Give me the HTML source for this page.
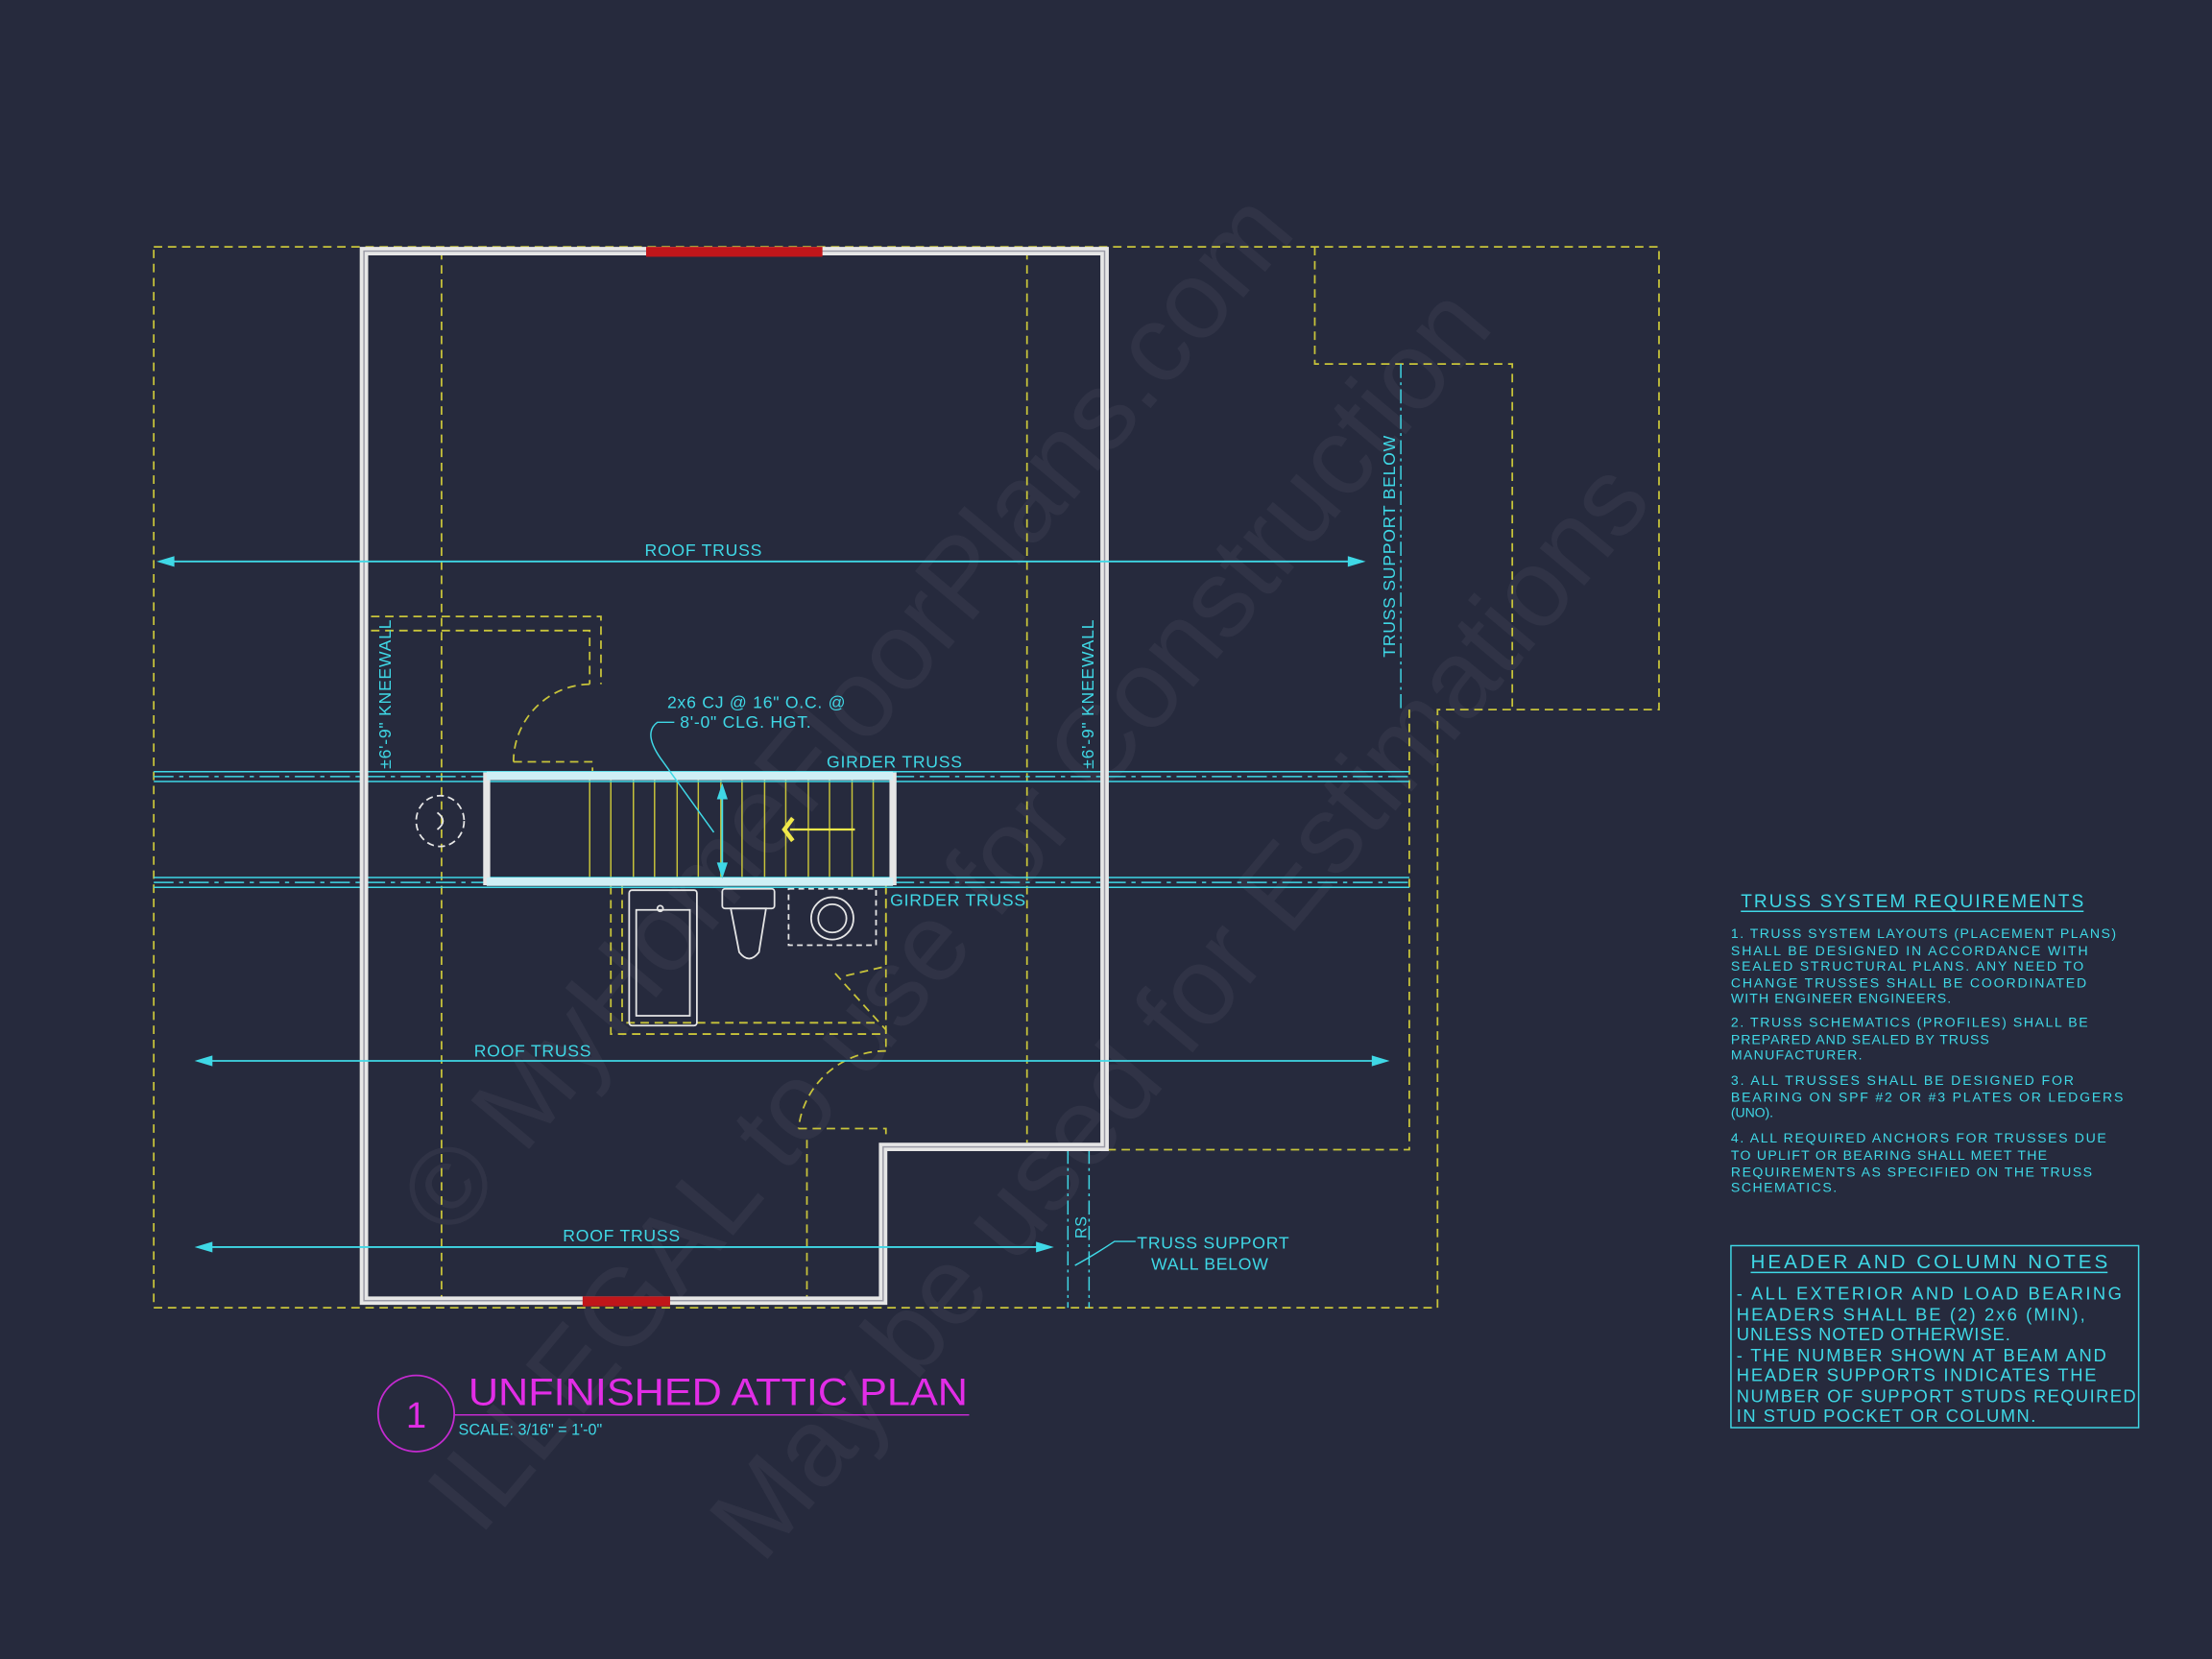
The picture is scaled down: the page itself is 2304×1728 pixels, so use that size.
<!DOCTYPE html>
<html><head><meta charset="utf-8"><style>
html,body{margin:0;padding:0;background:#262a3d;}
svg{display:block;}
text{font-family:"Liberation Sans",sans-serif;}
</style></head><body>
<svg width="2304" height="1728" viewBox="0 0 1568 1176" xmlns="http://www.w3.org/2000/svg">
<rect width="1568" height="1176" fill="#262a3d"/>
<!-- watermarks -->
<g fill="#ffffff" opacity="0.045" font-family="Liberation Serif,serif" font-size="78">
<text transform="translate(320,880) rotate(-50)">© MyHomeFloorPlans.com</text>
<text transform="translate(340,1090) rotate(-50)">ILLEGAL to use for Construction</text>
<text transform="translate(540,1110) rotate(-50)">May be used for Estimations</text>
</g>
<!-- yellow dashed outlines -->
<g fill="none" stroke="#c8c43a" stroke-width="1.2" stroke-dasharray="6,4">
<polyline points="109,175 1176,175 1176,503 1019,503 1019,927 109,927 109,175"/>
<polyline points="932,175 932,258 1072,258 1072,503"/>
<polyline points="999,503 999,815 785,815"/>
<line x1="313" y1="178" x2="313" y2="922"/>
<line x1="728" y1="178" x2="728" y2="810"/>
<polyline points="263,437 426,437 426,485"/>
<polyline points="263,447 418,447 418,485"/>
<path d="M418,485 A55,55 0 0 0 364,540"/>
<polyline points="364,540 420,540 420,550"/>
<polyline points="433,628 433,733 628,733 628,628"/>
<polyline points="441,628 441,725 620,725"/>
<polyline points="628,628 628,685 598,692"/>
<path d="M592,690 L628,730 L628,745"/>
<path d="M628,745 A62,62 0 0 0 566,800"/>
<polyline points="566,800 628,800 628,808"/>
<polyline points="572,808 572,922"/>
</g>
<!-- stair treads -->
<g stroke="#c8c43a" stroke-width="1">
<line x1="418" y1="553" x2="418" y2="623"/><line x1="433" y1="553" x2="433" y2="623"/>
<line x1="449" y1="553" x2="449" y2="623"/><line x1="464" y1="553" x2="464" y2="623"/>
<line x1="480" y1="553" x2="480" y2="623"/><line x1="495" y1="553" x2="495" y2="623"/>
<line x1="511" y1="553" x2="511" y2="623"/><line x1="526" y1="553" x2="526" y2="623"/>
<line x1="542" y1="553" x2="542" y2="623"/><line x1="557" y1="553" x2="557" y2="623"/>
<line x1="573" y1="553" x2="573" y2="623"/><line x1="588" y1="553" x2="588" y2="623"/>
<line x1="604" y1="553" x2="604" y2="623"/><line x1="619" y1="553" x2="619" y2="623"/>
</g>
<polyline points="562,580 556,588 562,596" fill="none" stroke="#f0e84a" stroke-width="3"/>
<line x1="560" y1="588" x2="606" y2="588" stroke="#f0e84a" stroke-width="1.5"/>
<!-- cyan dashed verticals -->
<g stroke="#3fd8e6" stroke-width="1" stroke-dasharray="10,3,2,3" fill="none">
<line x1="993" y1="258" x2="993" y2="503"/>
<line x1="757" y1="815" x2="757" y2="927"/>
<line x1="772" y1="815" x2="772" y2="927"/>
</g>
<!-- girder truss lines -->
<g stroke="#3fd8e6" stroke-width="1" fill="none">
<line x1="109" y1="547" x2="999" y2="547"/><line x1="109" y1="554" x2="999" y2="554"/>
<line x1="109" y1="622" x2="999" y2="622"/><line x1="109" y1="629" x2="999" y2="629"/>
<line x1="109" y1="550.5" x2="999" y2="550.5" stroke-dasharray="14,4,3,4"/>
<line x1="109" y1="625.5" x2="999" y2="625.5" stroke-dasharray="14,4,3,4"/>
</g>
<!-- white walls -->
<polygon points="258,178 783,178 783,813 626,813 626,922 258,922" fill="none" stroke="#e6e6e6" stroke-width="6"/>
<polygon points="258,178 783,178 783,813 626,813 626,922 258,922" fill="none" stroke="#9a9aa6" stroke-width="1"/>
<rect x="345" y="550" width="288" height="75" fill="none" stroke="#e6e6e6" stroke-width="5"/>
<line x1="345" y1="550" x2="633" y2="550" stroke="#cfeff5" stroke-width="6"/>
<line x1="345" y1="625" x2="633" y2="625" stroke="#cfeff5" stroke-width="6"/>
<!-- windows -->
<rect x="458" y="175" width="125" height="7" fill="#c0161a"/>
<rect x="413" y="919" width="62" height="7" fill="#c0161a"/>
<!-- fixtures -->
<g fill="none" stroke="#e6e6e6" stroke-width="1.2">
<rect x="446" y="631" width="48" height="96" rx="2"/>
<path d="M451,645 L489,645 L489,720 L451,720 Z"/>
<circle cx="468" cy="644" r="2"/>
<rect x="512" y="630" width="37" height="14" rx="2"/>
<path d="M518,644 L543,644 L538,675 Q531,684 524,675 Z"/>
<rect x="559" y="630" width="62" height="40" stroke-dasharray="4,3"/>
<circle cx="590" cy="651" r="15"/><circle cx="590" cy="651" r="10"/>
<ellipse cx="312" cy="582" rx="17" ry="18" stroke-dasharray="5,3"/>
<path d="M310,576 Q318,582 310,588"/>
</g>
<!-- roof trusses -->
<g stroke="#3fd8e6" stroke-width="1.2" fill="#3fd8e6">
<line x1="113" y1="398" x2="966" y2="398"/>
<polygon points="113,398 123,395 123,401"/><polygon points="966,398 956,395 956,401"/>
<line x1="140" y1="752" x2="983" y2="752"/>
<polygon points="140,752 150,749 150,755"/><polygon points="983,752 973,749 973,755"/>
<line x1="140" y1="884" x2="745" y2="884"/>
<polygon points="140,884 150,881 150,887"/><polygon points="745,884 735,881 735,887"/>
<line x1="512" y1="560" x2="512" y2="618"/>
<polygon points="512,557 509,566 515,566"/><polygon points="512,621 509,612 515,612"/>
</g>
<g fill="none" stroke="#3fd8e6" stroke-width="1">
<path d="M478,512 L466,512 Q455,520 470,540 L506,590"/>
<path d="M805,880 L790,880 Q775,890 762,897"/>
</g>
<!-- labels -->
<g fill="#3fd8e6" font-size="12" letter-spacing="0.5">
<text x="457" y="394">ROOF TRUSS</text>
<text x="336" y="749">ROOF TRUSS</text>
<text x="399" y="880">ROOF TRUSS</text>
<text x="586" y="544">GIRDER TRUSS</text>
<text x="631" y="642">GIRDER TRUSS</text>
<text x="473" y="502">2x6 CJ @ 16" O.C. @</text>
<text x="482" y="516">8'-0" CLG. HGT.</text>
<text x="806" y="885">TRUSS SUPPORT</text>
<text x="816" y="900">WALL BELOW</text>
<text transform="translate(277,545) rotate(-90)">±6'-9" KNEEWALL</text>
<text transform="translate(775,545) rotate(-90)">±6'-9" KNEEWALL</text>
<text transform="translate(989,466) rotate(-90)">TRUSS SUPPORT BELOW</text>
<text transform="translate(770,878) rotate(-90)" font-size="11">RS</text>
</g>
<!-- title -->
<circle cx="295" cy="1002" r="27" fill="none" stroke="#c42ad0" stroke-width="1.2"/>
<text x="295" y="1012" fill="#e22de6" font-size="26" text-anchor="middle">1</text>
<text x="332" y="996" fill="#e22de6" font-size="27" textLength="354" lengthAdjust="spacingAndGlyphs">UNFINISHED ATTIC PLAN</text>
<line x1="322" y1="1003" x2="687" y2="1003" stroke="#c42ad0" stroke-width="1"/>
<text x="325" y="1017" fill="#3fd8e6" font-size="11">SCALE: 3/16" = 1'-0"</text>
<!-- notes -->
<g fill="#3fd8e6" font-size="9.6" lengthAdjust="spacingAndGlyphs">
<text x="1234" y="643" font-size="13" textLength="243">TRUSS SYSTEM REQUIREMENTS</text>
<line x1="1234" y1="646" x2="1477" y2="646" stroke="#3fd8e6" stroke-width="1"/>
<text x="1227" y="665" textLength="273">1. TRUSS SYSTEM LAYOUTS (PLACEMENT PLANS)</text>
<text x="1227" y="677" textLength="253">SHALL BE DESIGNED IN ACCORDANCE WITH</text>
<text x="1227" y="688" textLength="250">SEALED STRUCTURAL PLANS. ANY NEED TO</text>
<text x="1227" y="700" textLength="252">CHANGE TRUSSES SHALL BE COORDINATED</text>
<text x="1227" y="711" textLength="156">WITH ENGINEER ENGINEERS.</text>
<text x="1227" y="728" textLength="253">2. TRUSS SCHEMATICS (PROFILES) SHALL BE</text>
<text x="1227" y="740" textLength="183">PREPARED AND SEALED BY TRUSS</text>
<text x="1227" y="751" textLength="93">MANUFACTURER.</text>
<text x="1227" y="769" textLength="243">3. ALL TRUSSES SHALL BE DESIGNED FOR</text>
<text x="1227" y="781" textLength="278">BEARING ON SPF #2 OR #3 PLATES OR LEDGERS</text>
<text x="1227" y="792" textLength="30">(UNO).</text>
<text x="1227" y="810" textLength="266">4. ALL REQUIRED ANCHORS FOR TRUSSES DUE</text>
<text x="1227" y="822" textLength="224">TO UPLIFT OR BEARING SHALL MEET THE</text>
<text x="1227" y="834" textLength="256">REQUIREMENTS AS SPECIFIED ON THE TRUSS</text>
<text x="1227" y="845" textLength="75">SCHEMATICS.</text>
</g>
<rect x="1227" y="883" width="289" height="129" fill="none" stroke="#3fd8e6" stroke-width="1"/>
<g fill="#3fd8e6" font-size="12.5" lengthAdjust="spacingAndGlyphs">
<text x="1241" y="899" font-size="14" textLength="253">HEADER AND COLUMN NOTES</text>
<line x1="1241" y1="902" x2="1494" y2="902" stroke="#3fd8e6" stroke-width="1"/>
<text x="1231" y="921" textLength="273">- ALL EXTERIOR AND LOAD BEARING</text>
<text x="1231" y="936" textLength="247">HEADERS SHALL BE (2) 2x6 (MIN),</text>
<text x="1231" y="950" textLength="194">UNLESS NOTED OTHERWISE.</text>
<text x="1231" y="965" textLength="262">- THE NUMBER SHOWN AT BEAM AND</text>
<text x="1231" y="979" textLength="255">HEADER SUPPORTS INDICATES THE</text>
<text x="1231" y="994" textLength="283">NUMBER OF SUPPORT STUDS REQUIRED</text>
<text x="1231" y="1008" textLength="212">IN STUD POCKET OR COLUMN.</text>
</g>
</svg>
</body></html>
